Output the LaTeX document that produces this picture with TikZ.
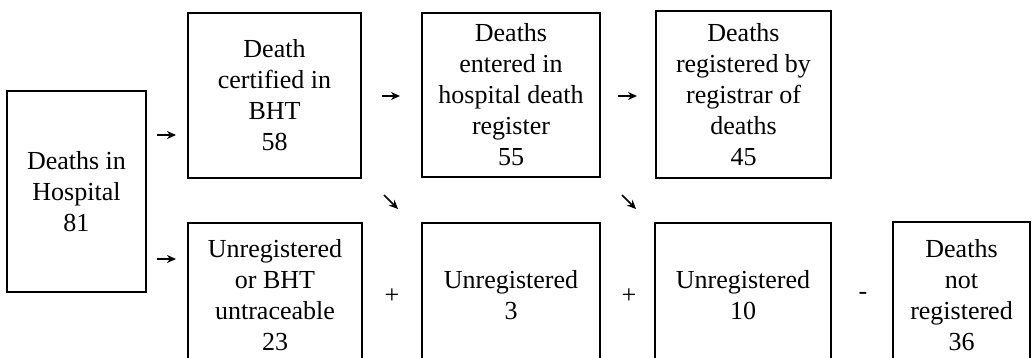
\documentclass[tikz,border=0pt]{standalone}
\usepackage{fontspec}
\setmainfont{Liberation Serif}
\usetikzlibrary{arrows.meta}
\tikzset{
  box/.style={draw=black, line width=1.3pt, fill=white, inner sep=0pt, align=center,
    font=\fontsize{13}{15.5}\selectfont},
  arr/.style={line width=0.8pt, -{Stealth[length=4.5pt,width=4pt]}},
  op/.style={inner sep=0pt, font=\fontsize{13}{15.5}\selectfont}
}
\begin{document}
\begin{tikzpicture}[x=0.5pt,y=-0.5pt]
\useasboundingbox (0,0) rectangle (1033,358);
\clip (0,0) rectangle (1033,358);
\fill[white] (0,0) rectangle (1033,358);
% boxes
\node[box, minimum width=69.5pt, minimum height=100.5pt] (hosp) at (76.5,191.5) {Deaths in\\Hospital\\81};
\node[box, minimum width=86.5pt, minimum height=82.5pt] (bht) at (274.5,95.5) {Death\\certified in\\BHT\\58};
\node[box, minimum width=89pt, minimum height=82pt] (reg) at (511,95) {Deaths\\entered in\\hospital death\\register\\55};
\node[box, minimum width=87.5pt, minimum height=83.5pt] (rgr) at (743.5,94.5) {Deaths\\registered by\\registrar of\\deaths\\45};
\node[box, minimum width=87pt, minimum height=72pt] (u1) at (275,295) {Unregistered\\or BHT\\untraceable\\23};
\node[box, minimum width=89pt, minimum height=72pt] (u2) at (511,295) {Unregistered\\3};
\node[box, minimum width=88pt, minimum height=72pt] (u3) at (743,295) {Unregistered\\10};
\node[box, minimum width=68.5pt, minimum height=73pt] (nr) at (961.5,295) {Deaths\\not\\registered\\36};
% operators
\node[op] (p1) at (392,296) {+};
\node[op] (p2) at (629,296) {+};
\node[op] (m1) at (863,296) {-};
% arrows
\coordinate (a1s) at (157,135); \coordinate (a1e) at (176,135);
\coordinate (a2s) at (157,259); \coordinate (a2e) at (176,259);
\coordinate (a3s) at (382,96);  \coordinate (a3e) at (400,96);
\coordinate (a4s) at (618,96);  \coordinate (a4e) at (637,96);
\coordinate (d1s) at (384,195); \coordinate (d1e) at (398,209);
\coordinate (d2s) at (622,195); \coordinate (d2e) at (636,209);
\draw[arr] (a1s) -- (a1e);
\draw[arr] (a2s) -- (a2e);
\draw[arr] (a3s) -- (a3e);
\draw[arr] (a4s) -- (a4e);
\draw[arr] (d1s) -- (d1e);
\draw[arr] (d2s) -- (d2e);
\end{tikzpicture}
\end{document}
